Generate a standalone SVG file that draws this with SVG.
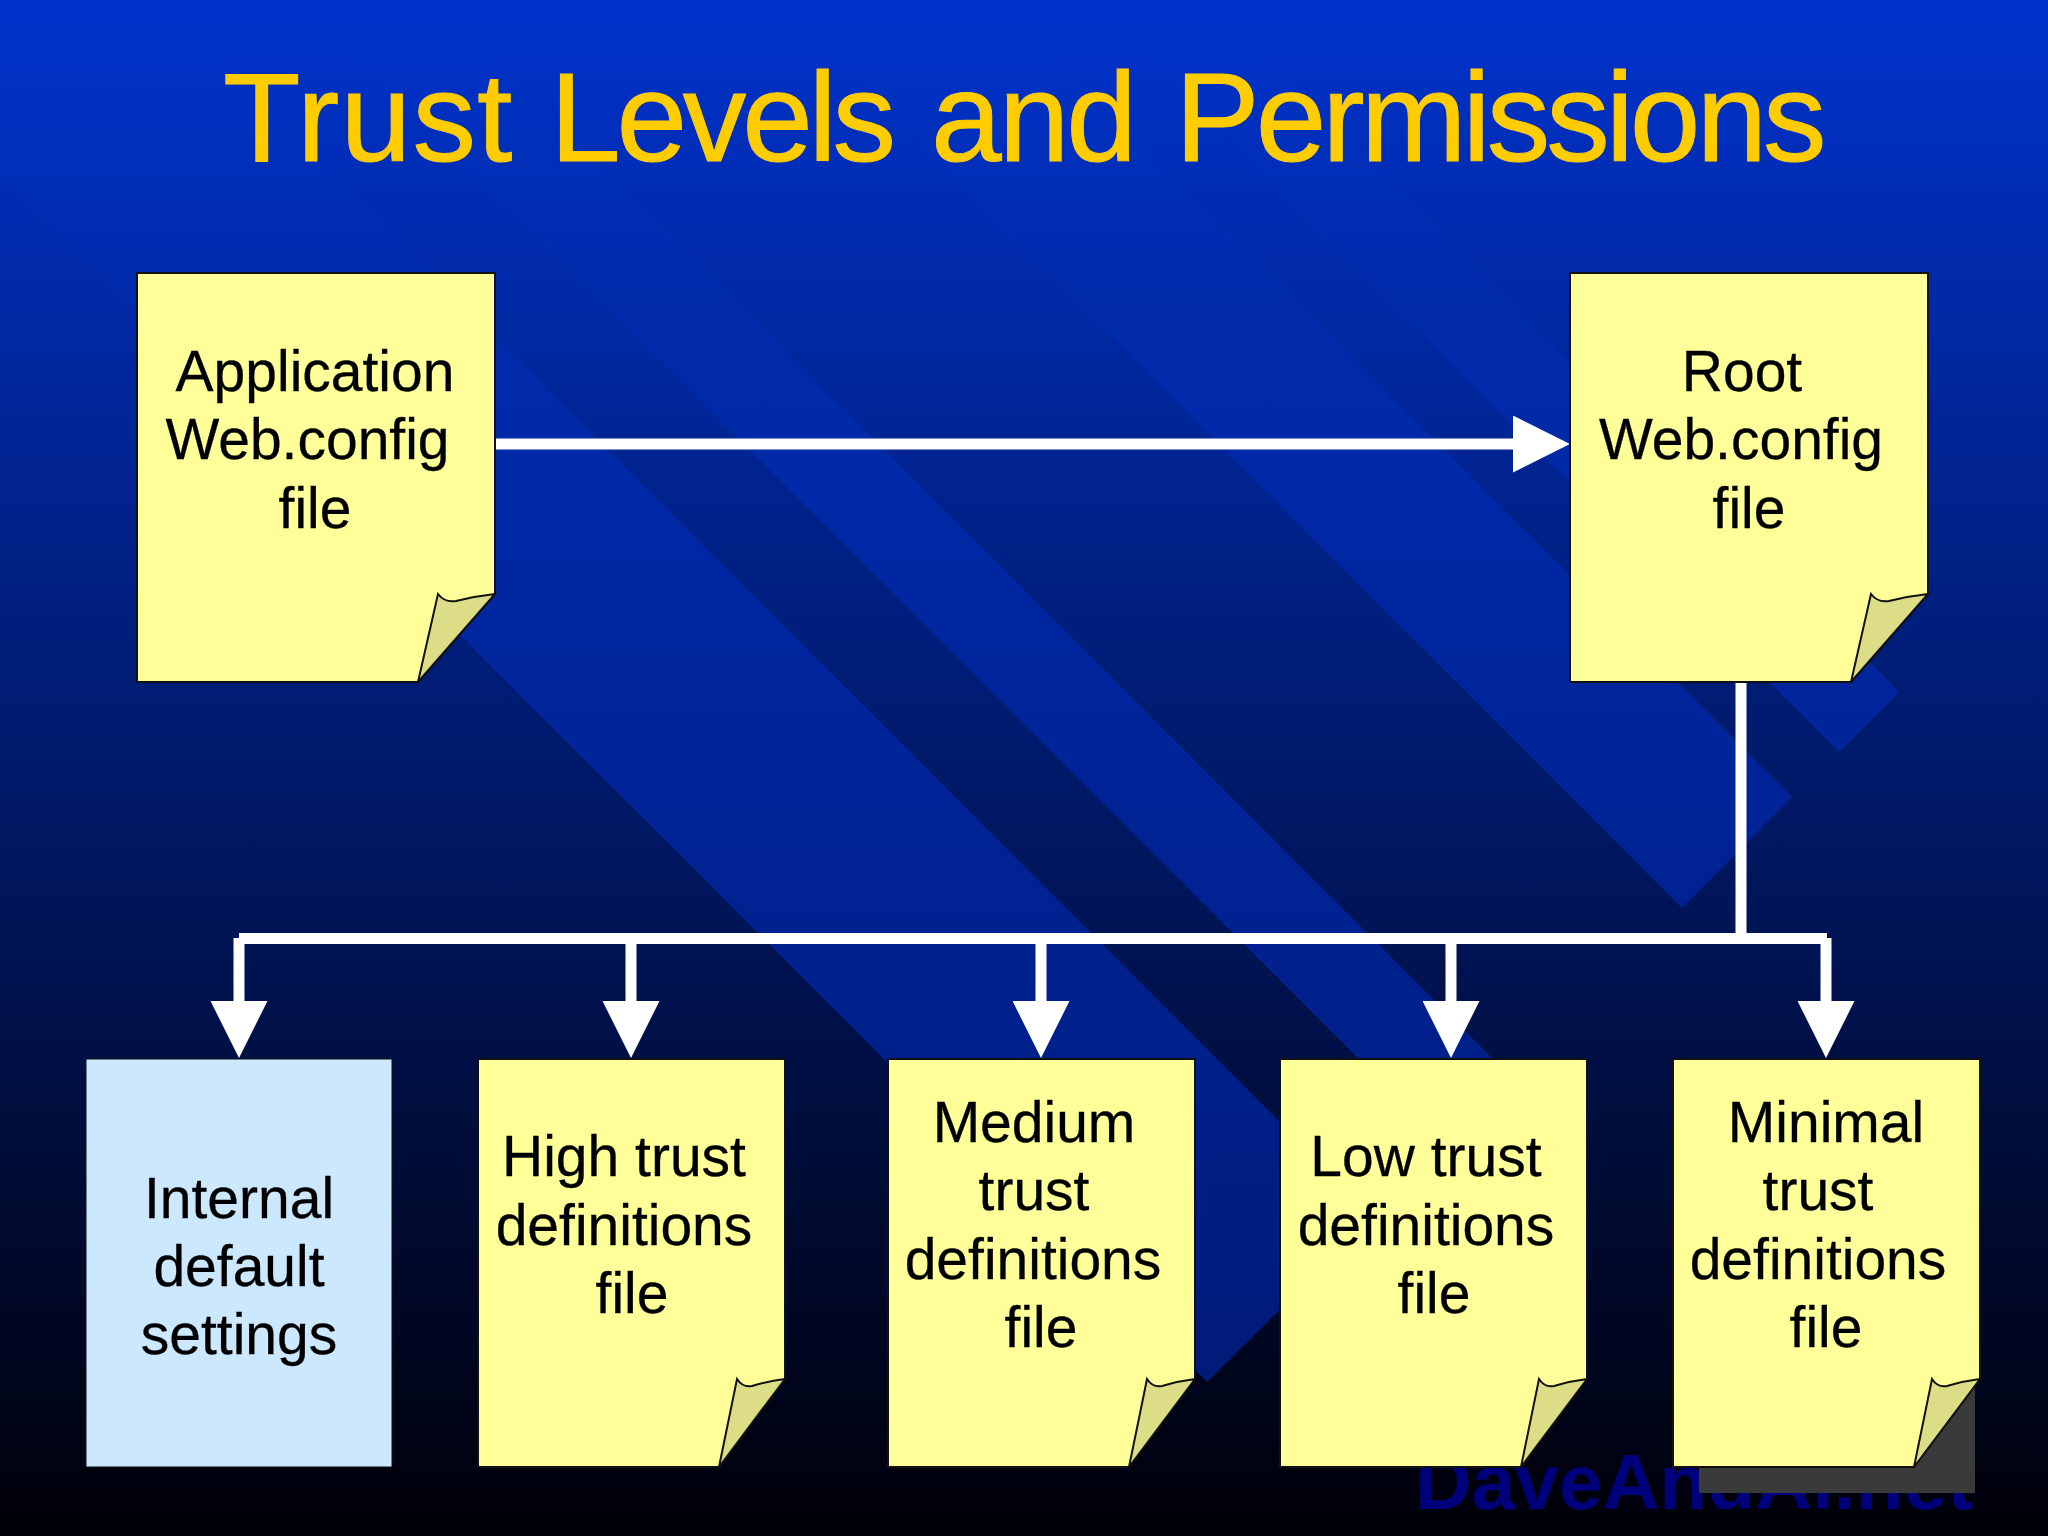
<svg xmlns="http://www.w3.org/2000/svg" width="2048" height="1536" viewBox="0 0 2048 1536">
<style>
.note{fill:#ffff99;stroke:#111;stroke-width:2;stroke-linejoin:miter}
.fold{fill:#dddd88;stroke:#111;stroke-width:2;stroke-linejoin:miter}
.lbl{font-family:"Liberation Sans",Arial,sans-serif;font-size:57px;fill:#000;text-anchor:middle;stroke:#000;stroke-width:.3}
.wire{stroke:#fff;stroke-width:11;fill:none}
</style>
<defs>
<linearGradient id="bg" x1="0" y1="0" x2="0" y2="1"><stop offset="0" stop-color="#0033cc"/><stop offset="1" stop-color="#000008"/></linearGradient>
<linearGradient id="band" gradientUnits="userSpaceOnUse" x1="0" y1="0" x2="0" y2="1400"><stop offset="0" stop-color="#0033cc"/><stop offset="0.1" stop-color="#002fbb"/><stop offset="0.21" stop-color="#002bab"/><stop offset="0.33" stop-color="#0029a8"/><stop offset="1" stop-color="#001a78"/></linearGradient>
<marker id="head" viewBox="0 0 57 57" refX="0" refY="28.5" markerWidth="57" markerHeight="57" markerUnits="userSpaceOnUse" orient="auto"><path d="M0 0L57 28.5L0 57Z" fill="#fff"/></marker>
</defs>
<rect id="background" width="2048" height="1536" fill="url(#bg)"/>
<g id="bands" fill="url(#band)">
<polygon points="0,175 1207,1382 1374,1216 158,0 0,0"/>
<polygon points="300,0 1445,1145 1512,1078 435,0"/>
<polygon points="775,0 1682,908 1792,797 995,0"/>
<polygon points="1087,0 1839,752 1899,692 1208,0"/>
</g>
<text id="watermark" x="1415" y="1509" font-family="'Liberation Sans',Arial,sans-serif" font-weight="700" font-size="78.5" fill="#00007c">DaveAndAl.net</text>
<rect id="shadow" x="1699" y="1300" width="276" height="193" fill="#3a3a3a"/>
<text id="title" y="161" font-family="'Liberation Sans',Arial,sans-serif" font-size="127" fill="#ffcc00" stroke="#ffcc00" stroke-width="1"><tspan x="223" letter-spacing="1.2">Trust</tspan> <tspan x="550" letter-spacing="-4.2">Levels</tspan> <tspan x="931" letter-spacing="-3">and</tspan> <tspan x="1175" letter-spacing="-4">Permissions</tspan></text>
<g id="connectors">
<line class="wire" x1="495" y1="444" x2="1513" y2="444" marker-end="url(#head)"/>
<line class="wire" x1="1741" y1="682" x2="1741" y2="938"/>
<line class="wire" x1="239" y1="938.5" x2="1827" y2="938.5"/>
<line class="wire" x1="239" y1="938" x2="239" y2="1001" marker-end="url(#head)"/>
<line class="wire" x1="631" y1="938" x2="631" y2="1001" marker-end="url(#head)"/>
<line class="wire" x1="1041" y1="938" x2="1041" y2="1001" marker-end="url(#head)"/>
<line class="wire" x1="1451" y1="938" x2="1451" y2="1001" marker-end="url(#head)"/>
<line class="wire" x1="1826" y1="938" x2="1826" y2="1001" marker-end="url(#head)"/>
</g>
<g id="node-application">
<path class="note" d="M137 273H495V594L418 682H137Z"/>
<path class="fold" d="M418 682L438 594Q445 603 456 601Q476 596 495 594Z"/>
<text class="lbl" x="315" y="391">Application</text>
<text class="lbl" x="307.5" y="459">Web.config</text>
<text class="lbl" x="315" y="528">file</text>
</g>
<g id="node-root">
<path class="note" d="M1570 273H1928V594L1851 682H1570Z"/>
<path class="fold" d="M1851 682L1871 594Q1878 603 1889 601Q1909 596 1928 594Z"/>
<text class="lbl" x="1742" y="391">Root</text>
<text class="lbl" x="1741" y="459">Web.config</text>
<text class="lbl" x="1749" y="528">file</text>
</g>
<g id="node-internal">
<rect x="86" y="1059" width="306" height="408" fill="#cce8ff" stroke="#111" stroke-width="1"/>
<text class="lbl" x="239" y="1218">Internal</text>
<text class="lbl" x="239" y="1286">default</text>
<text class="lbl" x="239" y="1354">settings</text>
</g>
<g id="node-high">
<path class="note" d="M478 1059H785V1379L719 1467H478Z"/>
<path class="fold" d="M719 1467L737 1379Q743 1388 752 1386Q768 1381 785 1379Z"/>
<text class="lbl" x="624" y="1176">High trust</text>
<text class="lbl" x="624" y="1245">definitions</text>
<text class="lbl" x="632" y="1313">file</text>
</g>
<g id="node-medium">
<path class="note" d="M888 1059H1195V1379L1129 1467H888Z"/>
<path class="fold" d="M1129 1467L1147 1379Q1153 1388 1162 1386Q1178 1381 1195 1379Z"/>
<text class="lbl" x="1034" y="1142">Medium</text>
<text class="lbl" x="1034" y="1210">trust</text>
<text class="lbl" x="1033" y="1279">definitions</text>
<text class="lbl" x="1041" y="1347">file</text>
</g>
<g id="node-low">
<path class="note" d="M1280 1059H1587V1379L1521 1467H1280Z"/>
<path class="fold" d="M1521 1467L1539 1379Q1545 1388 1554 1386Q1570 1381 1587 1379Z"/>
<text class="lbl" x="1426" y="1176">Low trust</text>
<text class="lbl" x="1426" y="1245">definitions</text>
<text class="lbl" x="1434" y="1313">file</text>
</g>
<g id="node-minimal">
<path class="note" d="M1673 1059H1980V1379L1914 1467H1673Z"/>
<path class="fold" d="M1914 1467L1932 1379Q1938 1388 1947 1386Q1963 1381 1980 1379Z"/>
<text class="lbl" x="1826" y="1142">Minimal</text>
<text class="lbl" x="1818" y="1210">trust</text>
<text class="lbl" x="1818" y="1279">definitions</text>
<text class="lbl" x="1826" y="1347">file</text>
</g>
</svg>
